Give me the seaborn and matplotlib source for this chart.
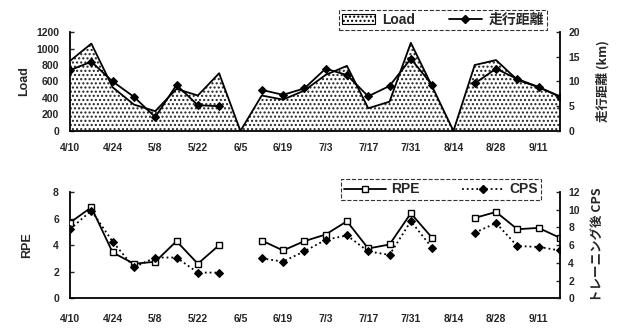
import numpy as np
import pandas as pd
import matplotlib
matplotlib.use("Agg")
import matplotlib.pyplot as plt
from matplotlib.patches import Patch
from matplotlib.lines import Line2D
import seaborn as sns

# ---- data ----
weeks = ['4/10', '4/17', '4/24', '5/1', '5/8', '5/15', '5/22', '5/29', '6/5', '6/12',
         '6/19', '6/26', '7/3', '7/10', '7/17', '7/24', '7/31', '8/7', '8/14', '8/21',
         '8/28', '9/4', '9/11', '9/18']
load = [850, 1060, 530, 320, 240, 510, 430, 700, 0, 430, 380, 490, 680, 790, 275, 355,
        1070, 540, 0, 800, 860, 620, 530, 420]
distance_km = [12.3, 14.0, 10.0, 6.9, 2.8, 9.3, 5.2, 5.0, np.nan, 8.3, 7.3, 8.6, 12.6, 11.3,
               7.0, 9.1, 14.6, 9.3, np.nan, 9.6, 12.6, 10.5, 8.9, 6.9]
rpe = [5.7, 6.85, 3.45, 2.6, 2.75, 4.3, 2.6, 4.0, np.nan, 4.35, 3.6, 4.3, 4.8, 5.8, 3.75,
       4.05, 6.4, 4.55, np.nan, 6.05, 6.5, 5.2, 5.3, 4.55]
cps = [7.8, 9.9, 6.4, 3.5, 4.6, 4.6, 2.9, 2.9, np.nan, 4.5, 4.15, 5.3, 6.6, 7.1, 5.3, 4.9,
       8.7, 5.7, np.nan, 7.4, 8.5, 5.9, 5.8, 5.4]
segment = [0] * 9 + [1] * 10 + [2] * 5

df = pd.DataFrame({"x": np.arange(len(weeks)), "week": weeks, "load": load,
                   "dist": distance_km, "rpe": rpe, "cps": cps, "seg": segment})

sns.set_style("white")
plt.rcParams['font.family'] = ['Liberation Sans', 'Noto Sans CJK JP', 'DejaVu Sans']
plt.rcParams['font.weight'] = 'bold'
plt.rcParams['hatch.linewidth'] = 1.0
JP = ['Noto Sans CJK JP', 'DejaVu Sans']

fig = plt.figure(figsize=(6.17, 3.34), dpi=100)
ax1 = fig.add_axes([0.1135, 0.608, 0.794, 0.296])
ax2 = fig.add_axes([0.1135, 0.107, 0.794, 0.318])
ax1r = ax1.twinx()
ax2r = ax2.twinx()

tick_fs = 7.5
lab_fs = 9

# ---- top panel ----
ax1.fill_between(df["x"], df["load"], 0, facecolor="white", edgecolor="#222222",
                 hatch="....", linewidth=0, zorder=1)
sns.lineplot(data=df, x="x", y="load", ax=ax1, color="black", lw=1.3, legend=False, zorder=2)
sns.lineplot(data=df, x="x", y="dist", units="seg", estimator=None, ax=ax1r, color="black",
             lw=1.3, marker="D", markersize=4.5, markeredgecolor="black", legend=False)

ax1.set_ylim(0, 1200)
ax1.set_yticks(range(0, 1201, 200))
ax1r.set_ylim(0, 20)
ax1r.set_yticks(range(0, 21, 5))
ax1.set_ylabel("Load", fontsize=lab_fs, fontweight="bold", labelpad=4)
ax1r.set_ylabel("走行距離 (km)", fontsize=lab_fs, fontweight="bold", rotation=90,
                labelpad=12, family=JP)

# ---- bottom panel ----
sns.lineplot(data=df, x="x", y="rpe", units="seg", estimator=None, ax=ax2, color="black",
             lw=1.3, marker="s", markersize=4.5, markerfacecolor="white",
             markeredgecolor="black", markeredgewidth=1.0, legend=False, zorder=3)
sns.lineplot(data=df, x="x", y="cps", units="seg", estimator=None, ax=ax2r, color="black",
             lw=1.3, linestyle=":", marker="D", markersize=4.5, markeredgecolor="black",
             legend=False)
ax2.set_ylim(0, 8)
ax2.set_yticks(range(0, 9, 2))
ax2r.set_ylim(0, 12)
ax2r.set_yticks(range(0, 13, 2))
ax2.set_ylabel("RPE", fontsize=lab_fs, fontweight="bold", labelpad=14)
ax2r.set_ylabel("トレーニング後 CPS", fontsize=lab_fs, fontweight="bold", rotation=90,
                labelpad=8, family=JP)

for ax, axr, pad in [(ax1, ax1r, 9), (ax2, ax2r, 11)]:
    ax.set_xlim(0, len(weeks) - 1)
    ax.set_xticks(df["x"][::2])
    ax.set_xticklabels(df["week"][::2], fontsize=tick_fs, fontweight="bold")
    ax.set_xticks(df["x"][1::2], minor=True)
    ax.set_xlabel("")
    ax.tick_params(axis="x", which="both", direction="in", length=3, width=1, pad=pad)
    ax.tick_params(axis="y", direction="in", length=3, width=1, labelsize=tick_fs, pad=8)
    axr.tick_params(axis="y", direction="in", length=3, width=1, labelsize=tick_fs, pad=6)
    for a in (ax, axr):
        a.spines["top"].set_visible(False)
        for s in ("left", "right", "bottom"):
            a.spines[s].set_linewidth(1.3)
            a.spines[s].set_color("black")
    ax.spines["right"].set_visible(False)
    axr.spines["left"].set_visible(False)
    axr.spines["bottom"].set_visible(False)
    for lab in ax.get_yticklabels() + axr.get_yticklabels():
        lab.set_fontweight("bold")

# ---- legends ----
h1 = [Patch(facecolor="white", edgecolor="black", hatch="....", linewidth=0.8),
      Line2D([0], [0], color="black", lw=1.3, marker="D", markersize=4.5)]
leg1 = fig.legend(h1, ["Load", "走行距離"], loc="upper right", bbox_to_anchor=(0.898, 0.99),
                  ncol=2, fontsize=10, frameon=True, fancybox=False, edgecolor="black",
                  handlelength=2.4, columnspacing=2.4, borderpad=0.2, handletextpad=0.5)
leg1.get_texts()[1].set_family(JP)
leg1.get_frame().set_linewidth(0.8)
leg1.get_frame().set_linestyle("--")

h2 = [Line2D([0], [0], color="black", lw=1.3, marker="s", markersize=4.5,
             markerfacecolor="white"),
      Line2D([0], [0], color="black", lw=1.3, ls=":", marker="D", markersize=4.5)]
leg2 = fig.legend(h2, ["RPE", "CPS"], loc="upper right", bbox_to_anchor=(0.888, 0.485),
                  ncol=2, fontsize=10, frameon=True, fancybox=False, edgecolor="black",
                  handlelength=3.0, columnspacing=3.0, borderpad=0.25, handletextpad=0.4)
leg2.get_frame().set_linewidth(0.8)
leg2.get_frame().set_linestyle("--")

fig.savefig("out.png", dpi=100)
